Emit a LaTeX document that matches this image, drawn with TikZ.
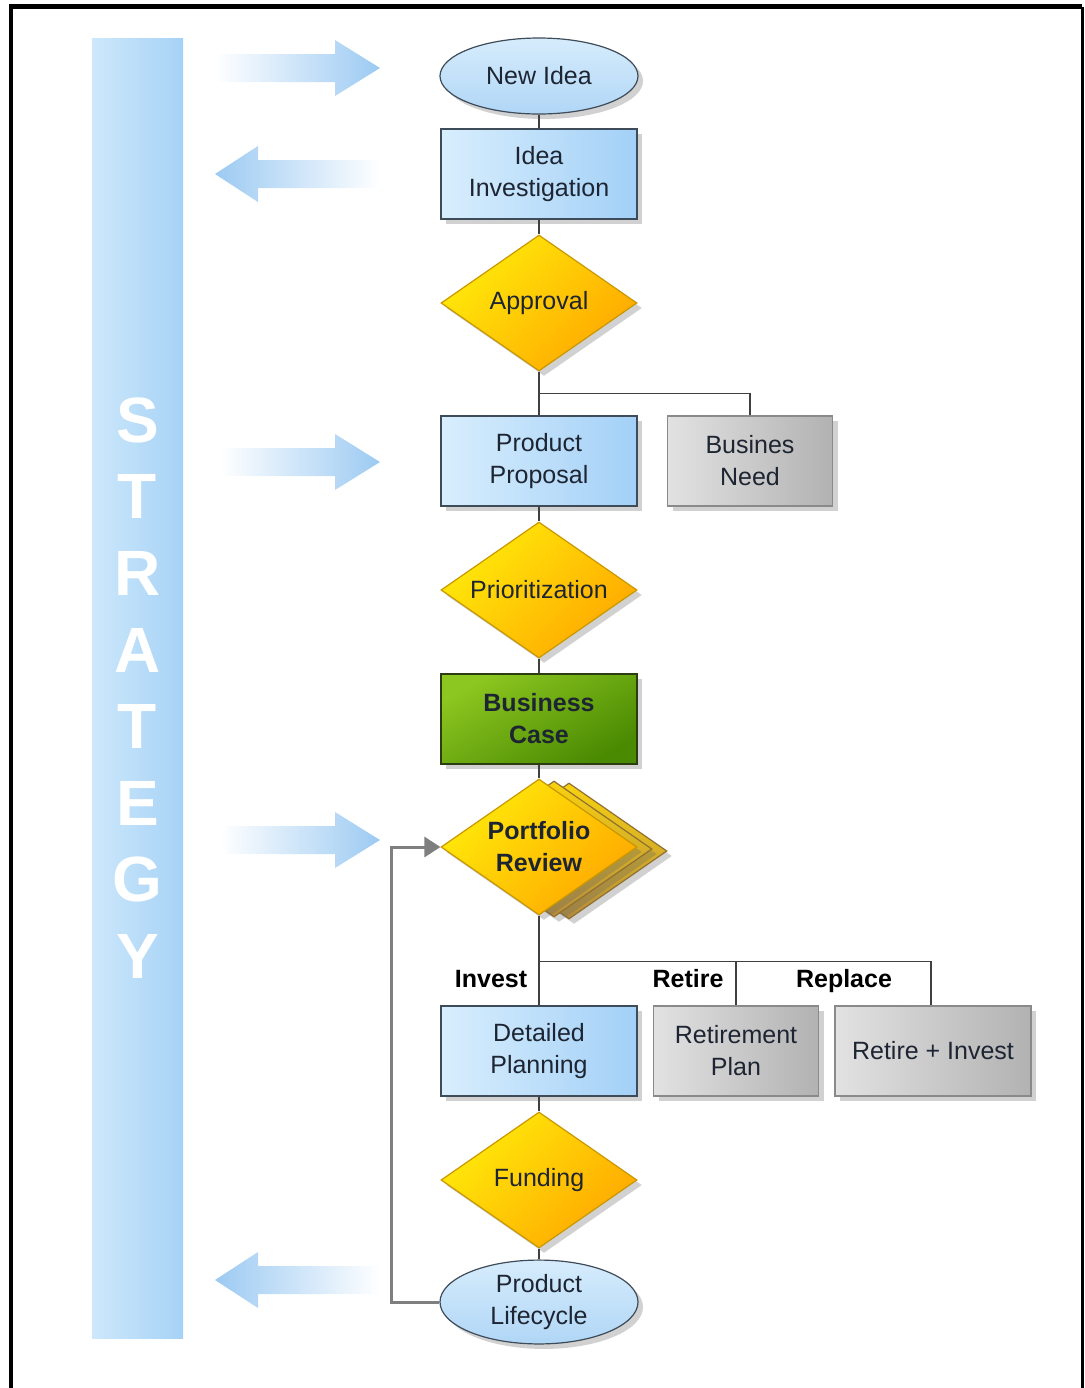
\documentclass[tikz,border=0pt]{standalone}
\usepackage{fontspec}
\setmainfont{Liberation Sans}
\usetikzlibrary{arrows.meta,positioning,shapes.geometric,shadows}

\definecolor{barL}{HTML}{CDE8FB}
\definecolor{barR}{HTML}{A6D2F6}
\definecolor{arrblue}{HTML}{9CCAF2}
\definecolor{blueL}{HTML}{D8EEFD}
\definecolor{blueR}{HTML}{A3D0F7}
\definecolor{boxedge}{HTML}{3E4B58}
\definecolor{grayL}{HTML}{E2E2E2}
\definecolor{grayR}{HTML}{B2B2B2}
\definecolor{grayedge}{HTML}{8A8A8A}
\definecolor{yelT}{HTML}{FFEA0A}
\definecolor{yelB}{HTML}{FFA800}
\definecolor{yeledge}{HTML}{C99700}
\definecolor{cardT}{HTML}{F8D210}
\definecolor{cardB}{HTML}{B48C3C}
\definecolor{grnT}{HTML}{8CC620}
\definecolor{grnB}{HTML}{4A8A02}
\definecolor{grnedge}{HTML}{2C3D12}
\definecolor{ellT}{HTML}{D6ECFC}
\definecolor{ellB}{HTML}{B0D6F6}
\definecolor{txtdark}{HTML}{1E2532}
\definecolor{loopgray}{HTML}{7F7F7F}

\begin{document}
\begin{tikzpicture}[
  x=0.5pt, y=-0.5pt,
  font=\fontsize{12.5}{16}\selectfont,
  shad/.style     = {drop shadow={shadow xshift=2.5pt, shadow yshift=-2.5pt,
                     opacity=.3, fill=black!60}},
  bluebox/.style  = {draw=boxedge, line width=0.6pt, align=center, text=txtdark,
                     minimum width=98pt, minimum height=45pt, inner sep=2pt,
                     left color=blueL, right color=blueR, shad},
  graybox/.style  = {bluebox, draw=grayedge, left color=grayL, right color=grayR},
  greenbox/.style = {bluebox, draw=grnedge, top color=grnT, bottom color=grnB,
                     shading angle=30},
  decision/.style = {diamond, draw=yeledge, line width=0.6pt, align=center,
                     text=txtdark, minimum width=98pt, minimum height=68pt,
                     shape aspect=1.44, inner sep=1pt, top color=yelT,
                     bottom color=yelB, shading angle=45, shad},
  backcard/.style = {decision, top color=cardT, bottom color=cardB,
                     draw=cardB!80!black},
  terminal/.style = {ellipse, draw=boxedge, line width=0.6pt, align=center,
                     text=txtdark, minimum width=99pt, minimum height=38pt,
                     inner sep=1pt, top color=ellT, bottom color=ellB, shad},
  stratbar/.style = {minimum width=45.5pt, minimum height=650pt, inner sep=0pt,
                     left color=barL, right color=barR, align=center, text=white,
                     font=\fontsize{32}{38.3}\selectfont\bfseries},
  ln/.style       = {line width=0.6pt, black!75},
  loopln/.style   = {line width=1.5pt, loopgray,
                     -{Triangle[length=8pt, width=10pt]}},
  lbl/.style      = {font=\fontsize{12.5}{16}\selectfont\bfseries, text=black,
                     inner sep=1pt, text height=9pt, text depth=2.6pt},
]
\useasboundingbox (0,0) rectangle (1084,1388);

% ----------------------------- frame ---------------------------------------
\draw[line width=2.2pt, line join=miter] (11,1388) -- (11,6.5) -- (1082,6.5);
\draw[line width=1.5pt] (1082,6.5) -- (1082,1388);

% ----------------------------- strategy bar --------------------------------
\node[stratbar] (strat) at (137.5,688) {S\\T\\R\\A\\T\\E\\G\\Y};

% ----------------------------- fat arrows ----------------------------------
\shade[left color=white, right color=arrblue]
  (215,54) -- (335,54) -- (335,40) -- (380,68) -- (335,96) -- (335,82)
  -- (215,82) -- cycle;
\shade[left color=arrblue, right color=white]
  (380,160) -- (258,160) -- (258,146) -- (215,174) -- (258,202) -- (258,188)
  -- (380,188) -- cycle;
\shade[left color=white, right color=arrblue]
  (220,448) -- (335,448) -- (335,434) -- (380,462) -- (335,490) -- (335,476)
  -- (220,476) -- cycle;
\shade[left color=white, right color=arrblue]
  (220,826) -- (335,826) -- (335,812) -- (380,840) -- (335,868) -- (335,854)
  -- (220,854) -- cycle;
\shade[left color=arrblue, right color=white]
  (380,1266) -- (258,1266) -- (258,1252) -- (215,1280) -- (258,1308)
  -- (258,1294) -- (380,1294) -- cycle;

% ----------------------------- idea stage ----------------------------------
\node[terminal] (idea) at (539,76) {New Idea};
\node[bluebox] (inv) at (539,174) {Idea\\Investigation};
\node[decision] (appr) at (539,303) {Approval};

% ----------------------------- proposal stage ------------------------------
\node[bluebox] (prop) at (539,461) {Product\\Proposal};
\node[graybox, minimum width=82.5pt] (need) at (750,461) {Busines\\Need};
\node[decision] (prio) at (539,590) {Prioritization};
\node[greenbox] (case) at (539,719) {\textbf{Business}\\\textbf{Case}};

% ----------------------------- portfolio review ----------------------------
\node[backcard] (pr3) at (569,851) {};
\node[backcard] (pr2) at (554,849) {};
\node[decision, font=\fontsize{12.5}{16}\selectfont\bfseries] (port) at (539,847)
  {Portfolio\\Review};

% ----------------------------- outcomes ------------------------------------
\node[bluebox] (plan) at (539,1051) {Detailed\\Planning};
\node[graybox, minimum width=82.5pt] (retp) at (736,1051) {Retirement\\Plan};
\node[graybox] (reti) at (933,1051) {Retire + Invest};
\node[lbl] (linv) at (491,981) {Invest};
\node[lbl] (lret) at (688,981) {Retire};
\node[lbl] (lrep) at (844,981) {Replace};

% ----------------------------- funding -------------------------------------
\node[decision] (fund) at (539,1180) {Funding};
\node[terminal] (life) at (539,1302) {Product\\Lifecycle};

% ----------------------------- connectors ----------------------------------
\draw[ln] (idea.south) -- (inv.north);
\draw[ln] (inv.south) -- (appr.north);
\draw[ln] (appr.south) -- (prop.north);
\draw[ln] (appr.south) -- ++(0,22) -| (need.north);
\draw[ln] (prop.south) -- (prio.north);
\draw[ln] (prio.south) -- (case.north);
\draw[ln] (case.south) -- (port.north);
\draw[ln] (port.south) -- (plan.north);
\draw[ln] (port.south) -- ++(0,46) -| (retp.north);
\draw[ln] (port.south) -- ++(0,46) -| ([xshift=-1pt]reti.north);
\draw[ln] (plan.south) -- (fund.north);
\draw[ln] (fund.south) -- (life.north);
\draw[loopln] (life.west) -- ++(-48,0) |- (port.west);

\end{tikzpicture}
\end{document}
